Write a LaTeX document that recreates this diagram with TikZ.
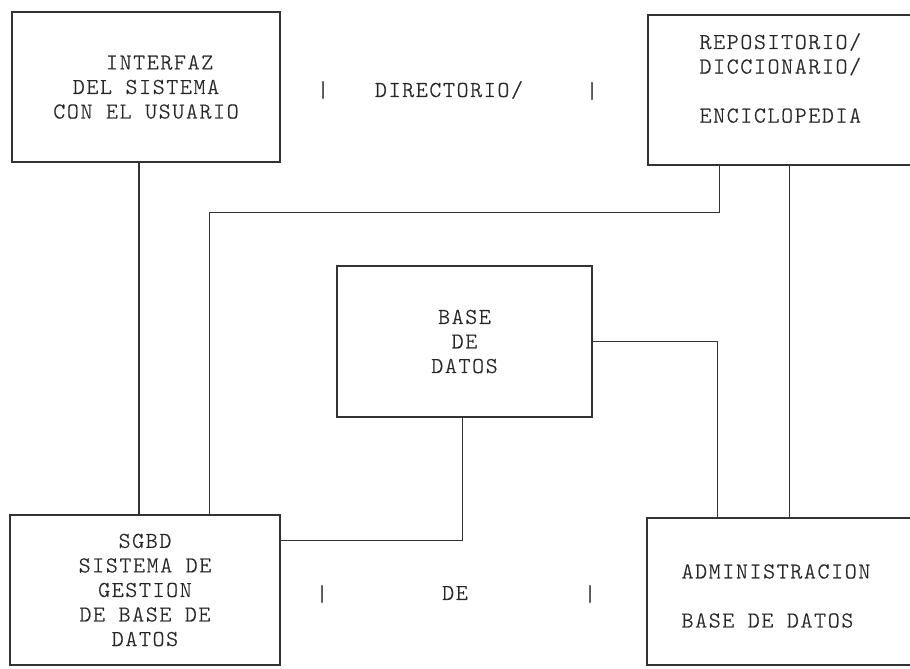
\documentclass[tikz,border=0pt]{standalone}
\usepackage{fontspec}
\setmonofont{Latin Modern Mono Light}[LetterSpace=7.5,FakeBold=0.8]
\usetikzlibrary{calc}
\tikzset{every picture/.style={line width=0.9pt}}
\tikzset{
txt/.style={font=\ttfamily\fontsize{17}{18.4}\selectfont, text=black!85, inner sep=0.75pt},
blk/.style={draw=black!80, rectangle, inner sep=0pt, align=center, txt}
}

\begin{document}
\begin{tikzpicture}[x=0.75pt,y=0.75pt,yscale=-1]
\useasboundingbox (0,0) rectangle (910,668);

%Shape: Rectangle [interfaz]
\node [blk, minimum width=201pt, minimum height=112.5pt] (iface) at (146,87) {\ \ INTERFAZ\\DEL SISTEMA\\CON EL USUARIO};
%Shape: Rectangle [repositorio]
\node [blk, minimum width=226.5pt, minimum height=112.5pt] (repo) at (799,90) {};
%Shape: Rectangle [base de datos]
\node [blk, minimum width=191.25pt, minimum height=113.25pt] (base) at (464.5,341.5) {BASE\\DE\\DATOS};
%Shape: Rectangle [sgbd]
\node [blk, minimum width=202.5pt, minimum height=112.5pt] (sgbd) at (145,590) {SGBD\\SISTEMA DE\\GESTION\\DE BASE DE\\DATOS};
%Shape: Rectangle [administracion]
\node [blk, minimum width=227.25pt, minimum height=110.25pt] (adm) at (798.5,591.5) {};

% Text Node
\node [txt, anchor=west, align=left] (repotxt) at (698,78) {REPOSITORIO/\\DICCIONARIO/\\\\ENCICLOPEDIA};
% Text Node
\node [txt, anchor=west, align=left] (admtxt) at (680,596) {ADMINISTRACION\\\\BASE DE DATOS};
% Text Node
\node [txt] (bar1) at (323,90) {|};
\node [txt] (dir) at (449,90) {DIRECTORIO/};
\node [txt] (bar2) at (592,91) {|};
% Text Node
\node [txt] (bar3) at (322,594) {|};
\node [txt] (de) at (455,593) {DE};
\node [txt] (bar4) at (590,594) {|};

%Connectors
\coordinate (i1) at ($(iface.south)+(-7,0)$);
\coordinate (r1) at ($(repo.south west)+(72,0)$);
\coordinate (r2) at ($(repo.south west)+(142,0)$);
\coordinate (s2) at ($(sgbd.north west)+(200,0)$);
\coordinate (s3) at ($(sgbd.north east)+(0,26)$);
\coordinate (a1) at ($(adm.north west)+(71,0)$);
\coordinate (b1) at ($(base.south west)+(126,0)$);

\draw [black!80] (i1) -- (i1 |- sgbd.north) ;
\draw [black!80] (r1) -- ++(0,47) -| (s2) ;
\draw [black!80] (r2) -- (r2 |- adm.north) ;
\draw [black!80] (base.east) -| (a1) ;
\draw [black!80] (b1) |- (s3) ;

\end{tikzpicture}
\end{document}
